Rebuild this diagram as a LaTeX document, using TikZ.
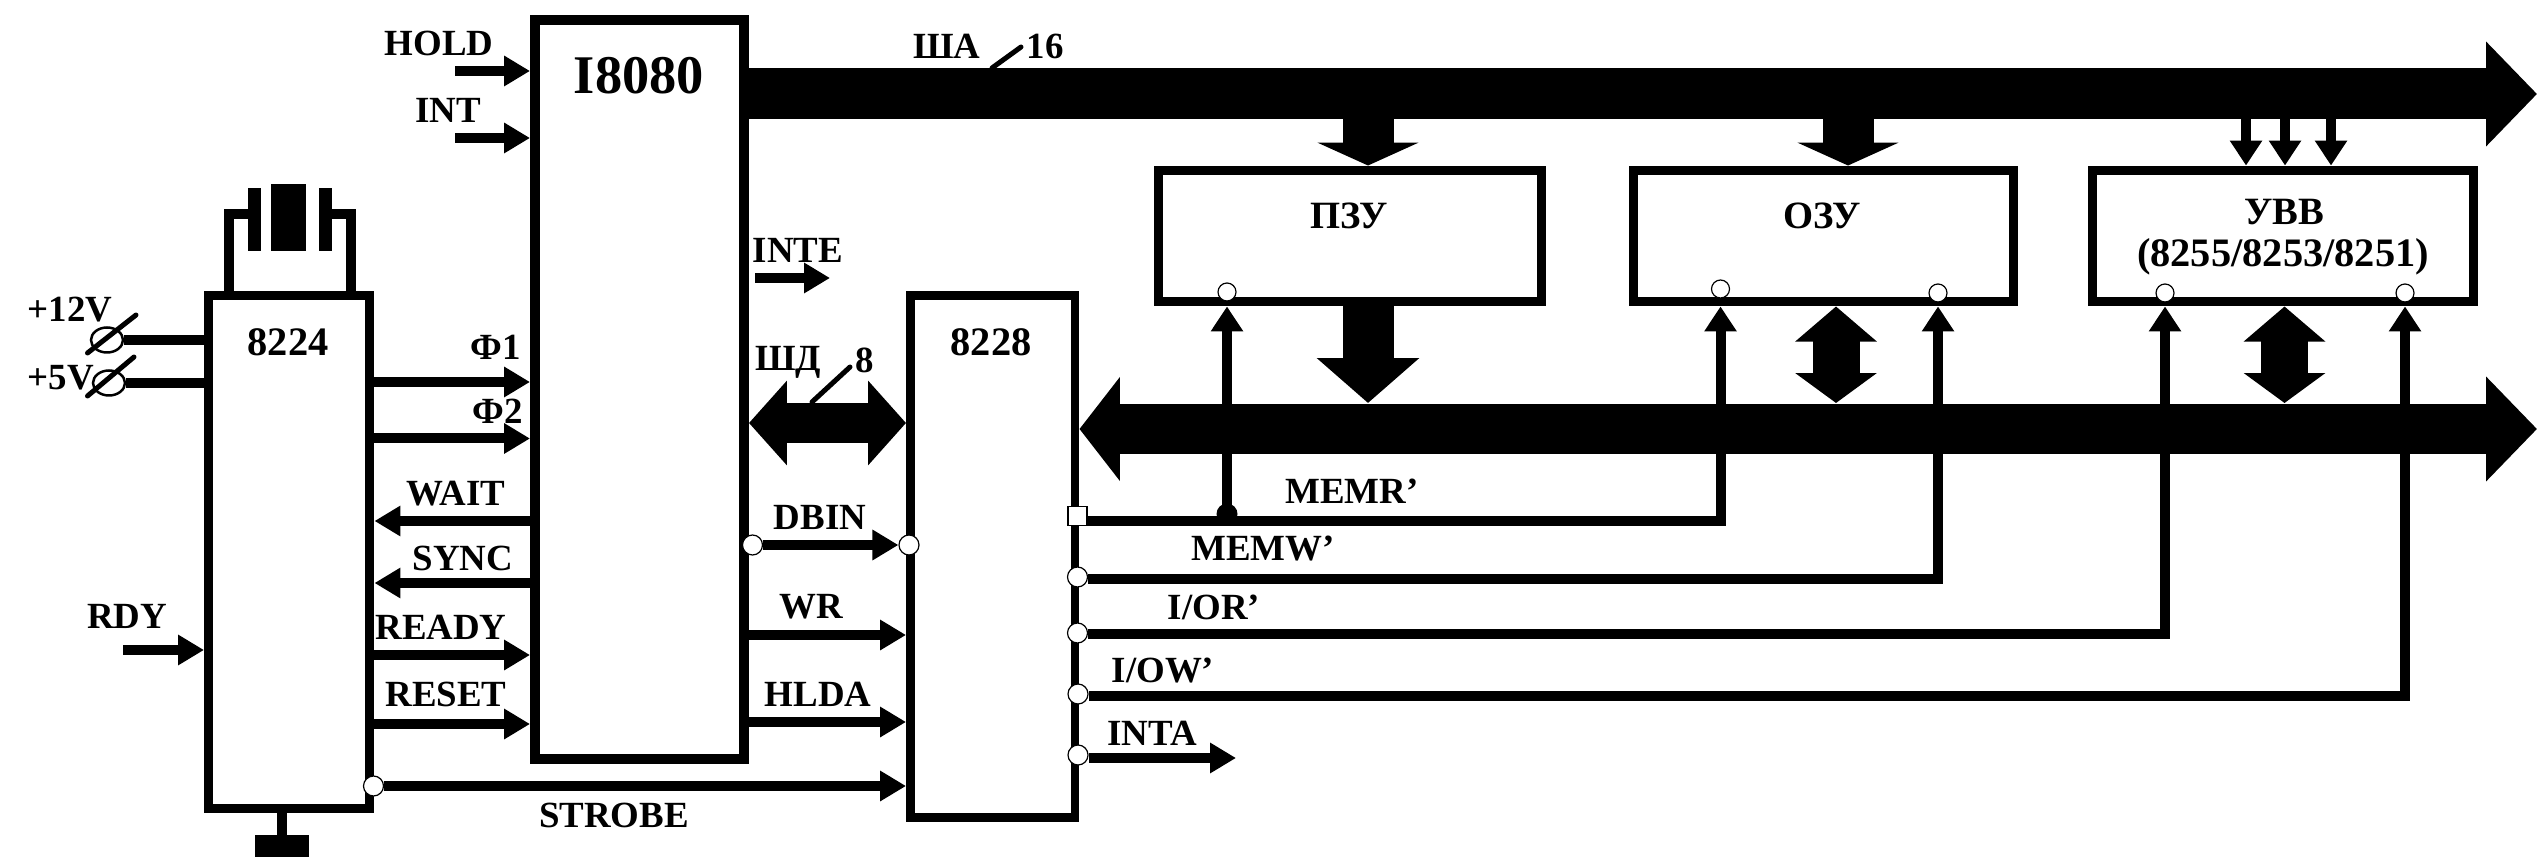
\documentclass[tikz,border=0pt]{standalone}
\usepackage{fontspec}
\setmainfont{Liberation Serif}
\usetikzlibrary{arrows.meta,shapes.geometric}
\def\pxu{0.56905pt}
\tikzset{
  x=0.02cm,y=-0.02cm,
  lab/.style={inner sep=0pt,font=\fontsize{21}{24}\selectfont\bfseries},
  labbig/.style={inner sep=0pt,font=\fontsize{23}{26}\selectfont\bfseries},
  blockbox/.style={draw=black,fill=white,line width=9*\pxu,inner sep=0pt},
  solidpart/.style={fill=black,inner sep=0pt},
  porto/.style={circle,fill=white,draw=black,line width=1.2*\pxu,minimum size=20*\pxu,inner sep=0pt},
  portsq/.style={rectangle,fill=white,draw=black,line width=1.2*\pxu,minimum size=19*\pxu,inner sep=0pt},
  sig/.style={line width=10*\pxu,-{Triangle[length=14.8pt,width=16.5pt]}},
  ctl/.style={line width=10*\pxu,-{Triangle[length=14.2pt,width=17.6pt]}},
  wire/.style={line width=10*\pxu},
  tick/.style={line width=5*\pxu,line cap=round},
  bigbus/.style={line width=51*\pxu,-{Triangle[length=29pt,width=58pt]}},
  duplexbus/.style={line width=51*\pxu,{Triangle[length=23pt,width=58pt]}-{Triangle[length=29pt,width=58pt]}},
  dropshort/.style={line width=51*\pxu,-{Triangle[length=13pt,width=57pt]}},
  droplong/.style={line width=51*\pxu,-{Triangle[length=25.6pt,width=57pt]}},
  dropduplex/.style={line width=47*\pxu,{Triangle[length=20pt,width=45.5pt]}-{Triangle[length=17pt,width=45.5pt]}},
  dbus/.style={line width=41*\pxu,{Triangle[length=21.6pt,width=47pt]}-{Triangle[length=21.6pt,width=47pt]}},
  terminal/.style={ellipse,draw=black,line width=2.5*\pxu,minimum width=32*\pxu,minimum height=25*\pxu,inner sep=0pt},
}
\begin{document}
\begin{tikzpicture}
\useasboundingbox[fill=white] (0,0) rectangle (2537,857);
% end coordinates
\coordinate (addrEnd) at (2537,94);
\coordinate (dataEnd) at (2537,429);
\coordinate (holdS) at (455,71);
\coordinate (intS) at (455,138);
\coordinate (rdyS) at (123,650);
\coordinate (inteS) at (755,278);
\coordinate (inteE) at (830,278);
\coordinate (intaE) at (1236,758);
\coordinate (addrP) at (1368,94);
\coordinate (addrO) at (1848,94);
\coordinate (addrU1) at (2246,119);
\coordinate (addrU2) at (2285,119);
\coordinate (addrU3) at (2331,119);
\coordinate (dataP) at (1368,403);
\coordinate (dataO) at (1836,403);
\coordinate (dataU) at (2284.5,403);
% blocks
\node[blockbox,minimum width=161.5*\pxu,minimum height=513*\pxu] (u8224) at (289.25,552) {};
\node[blockbox,line width=10*\pxu,minimum width=209*\pxu,minimum height=740*\pxu] (i8080) at (639.5,389.5) {};
\node[blockbox,minimum width=164.5*\pxu,minimum height=522*\pxu] (u8228) at (992.75,556.5) {};
\node[blockbox,minimum width=384*\pxu,minimum height=132*\pxu] (pzu) at (1350,236) {};
\node[blockbox,minimum width=380.5*\pxu,minimum height=132*\pxu] (ozu) at (1823.25,236) {};
\node[blockbox,minimum width=382*\pxu,minimum height=132*\pxu] (uvv) at (2283,236) {};
% crystal and ground
\node[solidpart,minimum width=13*\pxu,minimum height=63*\pxu] (xtalL) at (254.5,219.5) {};
\node[solidpart,minimum width=35*\pxu,minimum height=67*\pxu] (xtalM) at (288.5,217.5) {};
\node[solidpart,minimum width=13*\pxu,minimum height=63*\pxu] (xtalR) at (325.5,219.5) {};
\node[solidpart,minimum width=54*\pxu,minimum height=22*\pxu] (gnd) at (282,846) {};
\draw[wire] (u8224.north -| 229,0) |- (xtalL.west |- 0,214);
\draw[wire] (u8224.north -| 351,0) |- (xtalR.east |- 0,214);
\draw[wire] (u8224.south -| gnd.north) -- (gnd.north);
% supply terminals
\node[terminal] (t12) at (107,340) {};
\node[terminal] (t5) at (109,383) {};
\coordinate (t12a) at (87.5,353); \coordinate (t12b) at (136,315);
\coordinate (t5a) at (87.5,396); \coordinate (t5b) at (134,357);
\draw[tick] (t12a) -- (t12b);
\draw[tick] (t5a) -- (t5b);
\draw[wire] (t12.east) -- (u8224.west |- t12.east);
\draw[wire] (t5.east) -- (u8224.west |- t5.east);
% ports on blocks
\node[porto] (pStrobe) at (373.5,786) {};
\node[porto] (pD1) at (752.5,545) {};
\node[porto] (pD2) at (909,545) {};
\node[portsq] (pR) at (1077.5,516) {};
\node[porto] (pW) at (1077.5,577) {};
\node[porto] (pIR) at (1077.5,633) {};
\node[porto] (pIW) at (1078,694) {};
\node[porto] (pIA) at (1078,755) {};
\node[porto,minimum size=18*\pxu] (cP) at (1227,292) {};
\node[porto,minimum size=18*\pxu] (cO1) at (1720.5,289) {};
\node[porto,minimum size=18*\pxu] (cO2) at (1938,293) {};
\node[porto,minimum size=18*\pxu] (cU1) at (2165,293) {};
\node[porto,minimum size=18*\pxu] (cU2) at (2405,293) {};
% control lines
\draw[ctl] (pR.east |- 0,521) -| (cO1 |- ozu.south);
\draw[ctl] (cP |- 0,521) -- (cP |- pzu.south);
\node[circle,fill=black,minimum size=21*\pxu,inner sep=0pt] (junction) at (1227,514) {};
\draw[ctl] (pW.east |- 0,579) -| (cO2 |- ozu.south);
\draw[ctl] (pIR.east |- 0,634) -| (cU1 |- uvv.south);
\draw[ctl] (pIW.east |- 0,696) -| (cU2 |- uvv.south);
\draw[sig] (pIA.east |- intaE) -- (intaE);
% buses
\draw[bigbus] (i8080.east |- addrEnd) -- (addrEnd);
\draw[duplexbus] (u8228.east |- dataEnd) -- (dataEnd);
\draw[dbus] (i8080.east |- 0,423) -- (u8228.west |- 0,423);
\draw[dropshort] (addrP) -- (addrP |- pzu.north);
\draw[dropshort] (addrO) -- (addrO |- ozu.north);
\draw[ctl] (addrU1) -- (addrU1 |- uvv.north);
\draw[ctl] (addrU2) -- (addrU2 |- uvv.north);
\draw[ctl] (addrU3) -- (addrU3 |- uvv.north);
\draw[droplong] (dataP |- pzu.south) -- (dataP);
\draw[dropduplex] (dataO |- ozu.south) -- (dataO);
\draw[dropduplex] (dataU |- uvv.south) -- (dataU);
% CPU signals
\draw[sig] (holdS) -- (i8080.west |- holdS);
\draw[sig] (intS) -- (i8080.west |- intS);
\draw[sig] (inteS) -- (inteE);
\draw[sig] (rdyS) -- (u8224.west |- rdyS);
\draw[sig] (u8224.east |- 0,382) -- (i8080.west |- 0,382);
\draw[sig] (u8224.east |- 0,438.5) -- (i8080.west |- 0,438.5);
\draw[sig] (i8080.west |- 0,521) -- (u8224.east |- 0,521);
\draw[sig] (i8080.west |- 0,583) -- (u8224.east |- 0,583);
\draw[sig] (u8224.east |- 0,655) -- (i8080.west |- 0,655);
\draw[sig] (u8224.east |- 0,724) -- (i8080.west |- 0,724);
\draw[sig] (pStrobe.east) -- (u8228.west |- pStrobe.east);
\draw[sig] (pD1.east) -- (pD2.west);
\draw[sig] (i8080.east |- 0,635) -- (u8228.west |- 0,635);
\draw[sig] (i8080.east |- 0,722) -- (u8228.west |- 0,722);
% bus width ticks
\coordinate (tA1) at (992,68); \coordinate (tA2) at (1021,47);
\coordinate (tD1) at (812,402); \coordinate (tD2) at (850,367);
\draw[tick] (tA1) -- (tA2);
\draw[tick] (tD1) -- (tD2);
% labels
\node[inner sep=0pt,font=\fontsize{31}{34}\selectfont\bfseries] (tI8080) at (639,76) {I8080};
\node[labbig] (t8224) at (288,342) {8224};
\node[labbig] (t8228) at (991,342) {8228};
\node[lab,font=\fontsize{22}{24}\selectfont\bfseries] (tPZU) at (1349,216) {ПЗУ};
\node[lab,font=\fontsize{22}{24}\selectfont\bfseries] (tOZU) at (1822,216) {ОЗУ};
\node[lab,font=\fontsize{22}{24}\selectfont\bfseries] (tUVV) at (2284,212) {УВВ};
\node[labbig] (tUVV2) at (2283,257) {(8255/8253/8251)};
\node[lab] (tHold) at (439,43) {HOLD};
\node[lab] (tInt) at (448,110) {INT};
\node[lab] (tSA) at (947,46) {ША};
\node[lab] (t16) at (1045,46) {16};
\node[lab] (tInte) at (798,250) {INTE};
\node[lab] (tSD) at (788,362) {ШД};
\node[lab] (t8) at (865,360) {8};
\node[lab] (tP12) at (70,310) {+12V};
\node[lab] (tP5) at (61,378) {+5V};
\node[lab] (tF1) at (496,347) {Ф1};
\node[lab] (tF2) at (498,411) {Ф2};
\node[lab] (tWait) at (456,494) {WAIT};
\node[lab] (tSync) at (463,558) {SYNC};
\node[lab] (tReady) at (441,627) {READY};
\node[lab] (tReset) at (446,694) {RESET};
\node[lab] (tRdy) at (127,616) {RDY};
\node[lab] (tStrobe) at (614,815) {STROBE};
\node[lab] (tDbin) at (820,517) {DBIN};
\node[lab] (tWr) at (811,607) {WR};
\node[lab] (tHlda) at (818,694) {HLDA};
\node[lab] (tMemr) at (1352,491) {MEMR'};
\node[lab] (tMemw) at (1263,549) {MEMW'};
\node[lab] (tIor) at (1214,607) {I/OR'};
\node[lab] (tIow) at (1163,671) {I/OW'};
\node[lab] (tInta) at (1152,733) {INTA};
\end{tikzpicture}
\end{document}
